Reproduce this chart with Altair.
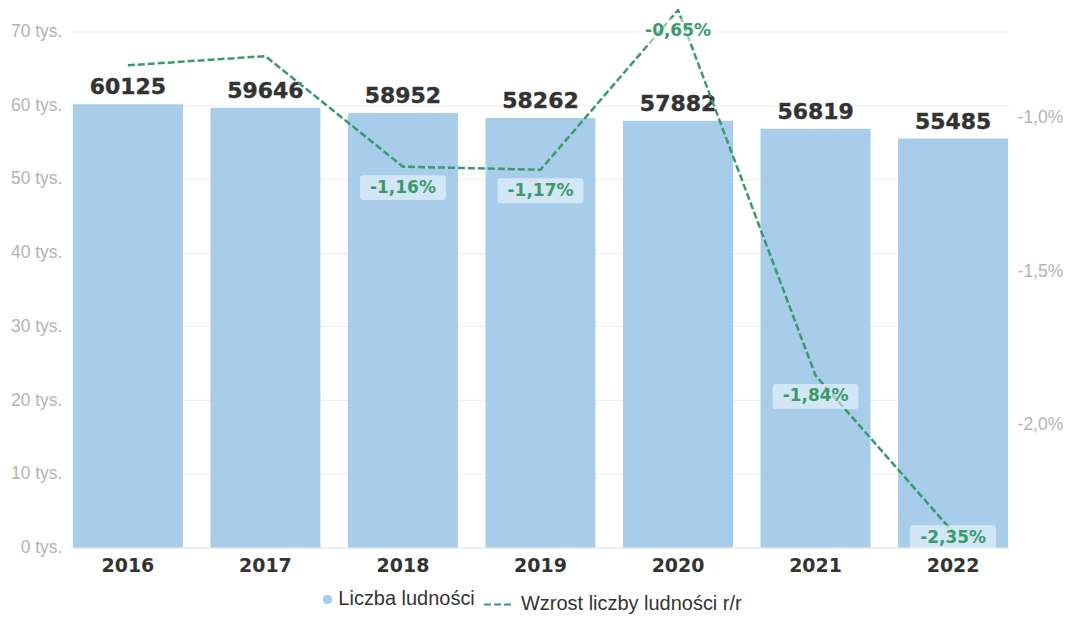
import altair as alt
import pandas as pd

years = ["2016", "2017", "2018", "2019", "2020", "2021", "2022"]
population = [60125, 59646, 58952, 58262, 57882, 56819, 55485]
growth = [-0.83, -0.80, -1.16, -1.17, -0.65, -1.84, -2.35]
growth_labels = ["", "", "-1,16%", "-1,17%", "-0,65%", "-1,84%", "-2,35%"]
left_ticks = [0, 10000, 20000, 30000, 40000, 50000, 60000, 70000]
right_ticks = [-2.0, -1.5, -1.0]
series = ["Liczba ludności", "Wzrost liczby ludności r/r"]

BLUE = "#a7cdea"
GREEN = "#3a9a6a"

df = pd.DataFrame({"year": years, "population": population,
                   "growth": growth, "glabel": growth_labels})
df["s_pop"] = series[0]
df["s_growth"] = series[1]

xscale = alt.Scale(paddingInner=0.2, paddingOuter=0)
x_main = alt.X("year:N", scale=xscale, title=None,
               axis=alt.Axis(labelAngle=0, ticks=False, domainColor="#e6e6e6",
                             labelFont="DejaVu Sans", labelFontWeight="bold",
                             labelFontSize=19, labelColor="#333333", labelPadding=9))

leg_common = dict(title=None, orient="none", direction="horizontal",
                  labelFont="Liberation Sans", labelFontSize=20, labelColor="#333333",
                  labelLimit=400, legendY=559)

y_left = alt.Y("population:Q", title=None,
               scale=alt.Scale(domain=[0, 70000], nice=False),
               axis=alt.Axis(values=left_ticks, labelExpr="datum.value/1000 + ' tys.'",
                             grid=True, gridColor="#ececec", domain=False, ticks=False,
                             labelFont="Liberation Sans", labelFontSize=17.5,
                             labelColor="#b3b3b3", labelPadding=11))

bars = alt.Chart(df).mark_bar().encode(
    x=x_main, y=y_left,
    color=alt.Color("s_pop:N", scale=alt.Scale(domain=[series[0]], range=[BLUE]),
                    legend=alt.Legend(symbolType="circle", symbolSize=90, labelOffset=1,
                                      legendX=245, **leg_common)),
)
bar_text = alt.Chart(df).mark_text(
    font="DejaVu Sans", fontWeight="bold", fontSize=22, color="#333333",
    stroke="#333333", strokeWidth=0.4, baseline="alphabetic", dy=-10,
).encode(x=x_main, y=alt.Y("population:Q"), text=alt.Text("population:Q", format="d"))

left = alt.layer(bars, bar_text)

y_right = alt.Y("growth:Q", title=None,
                scale=alt.Scale(domain=[-2.4, -0.72], nice=False, zero=False),
                axis=alt.Axis(orient="right", values=right_ticks,
                              labelExpr="(datum.value < 0 ? '-' : '') + replace(format(abs(datum.value), '.1f'), '.', ',') + '%'",
                              grid=False, domain=False, ticks=False,
                              labelFont="Liberation Sans", labelFontSize=17.5,
                              labelColor="#b3b3b3", labelPadding=9))

line = alt.Chart(df).mark_line(color=GREEN, strokeWidth=2.5, strokeJoin="round").encode(
    x=x_main, y=y_right,
    strokeDash=alt.StrokeDash("s_growth:N",
                              scale=alt.Scale(domain=[series[1]], range=[[7, 3]]),
                              legend=alt.Legend(symbolType="stroke", symbolSize=784,
                                                symbolStrokeColor=GREEN,
                                                symbolStrokeWidth=2, symbolDash=[6, 4],
                                                labelOffset=8, legendX=411, **leg_common)),
)

lab = alt.Chart(df).transform_filter("datum.glabel != ''").transform_calculate(
    ly="max(datum.growth, -2.3)")

box_path = ("M-0.93,-0.29 L0.93,-0.29 Q1,-0.29 1,-0.22 L1,0.22 Q1,0.29 0.93,0.29 "
            "L-0.93,0.29 Q-1,0.29 -1,0.22 L-1,-0.22 Q-1,-0.29 -0.93,-0.29 Z")
boxes = lab.mark_point(shape=box_path, size=7396, filled=True, color="white",
                       opacity=0.5, strokeWidth=0, yOffset=21).encode(
    x=x_main, y=alt.Y("ly:Q", title=None))
labels = lab.mark_text(font="DejaVu Sans", fontWeight="bold", fontSize=17,
                       color=GREEN, yOffset=21, baseline="middle").encode(
    x=x_main, y=alt.Y("ly:Q", title=None), text="glabel:N")

right = alt.layer(line, boxes, labels)

chart = alt.layer(left, right).resolve_scale(y="independent").properties(
    width=937, height=517,
    padding={"left": 2, "top": 0, "right": 0, "bottom": 0},
).configure_view(strokeWidth=0)

chart.save("out.html", embed_options={"renderer": "svg", "actions": False})
